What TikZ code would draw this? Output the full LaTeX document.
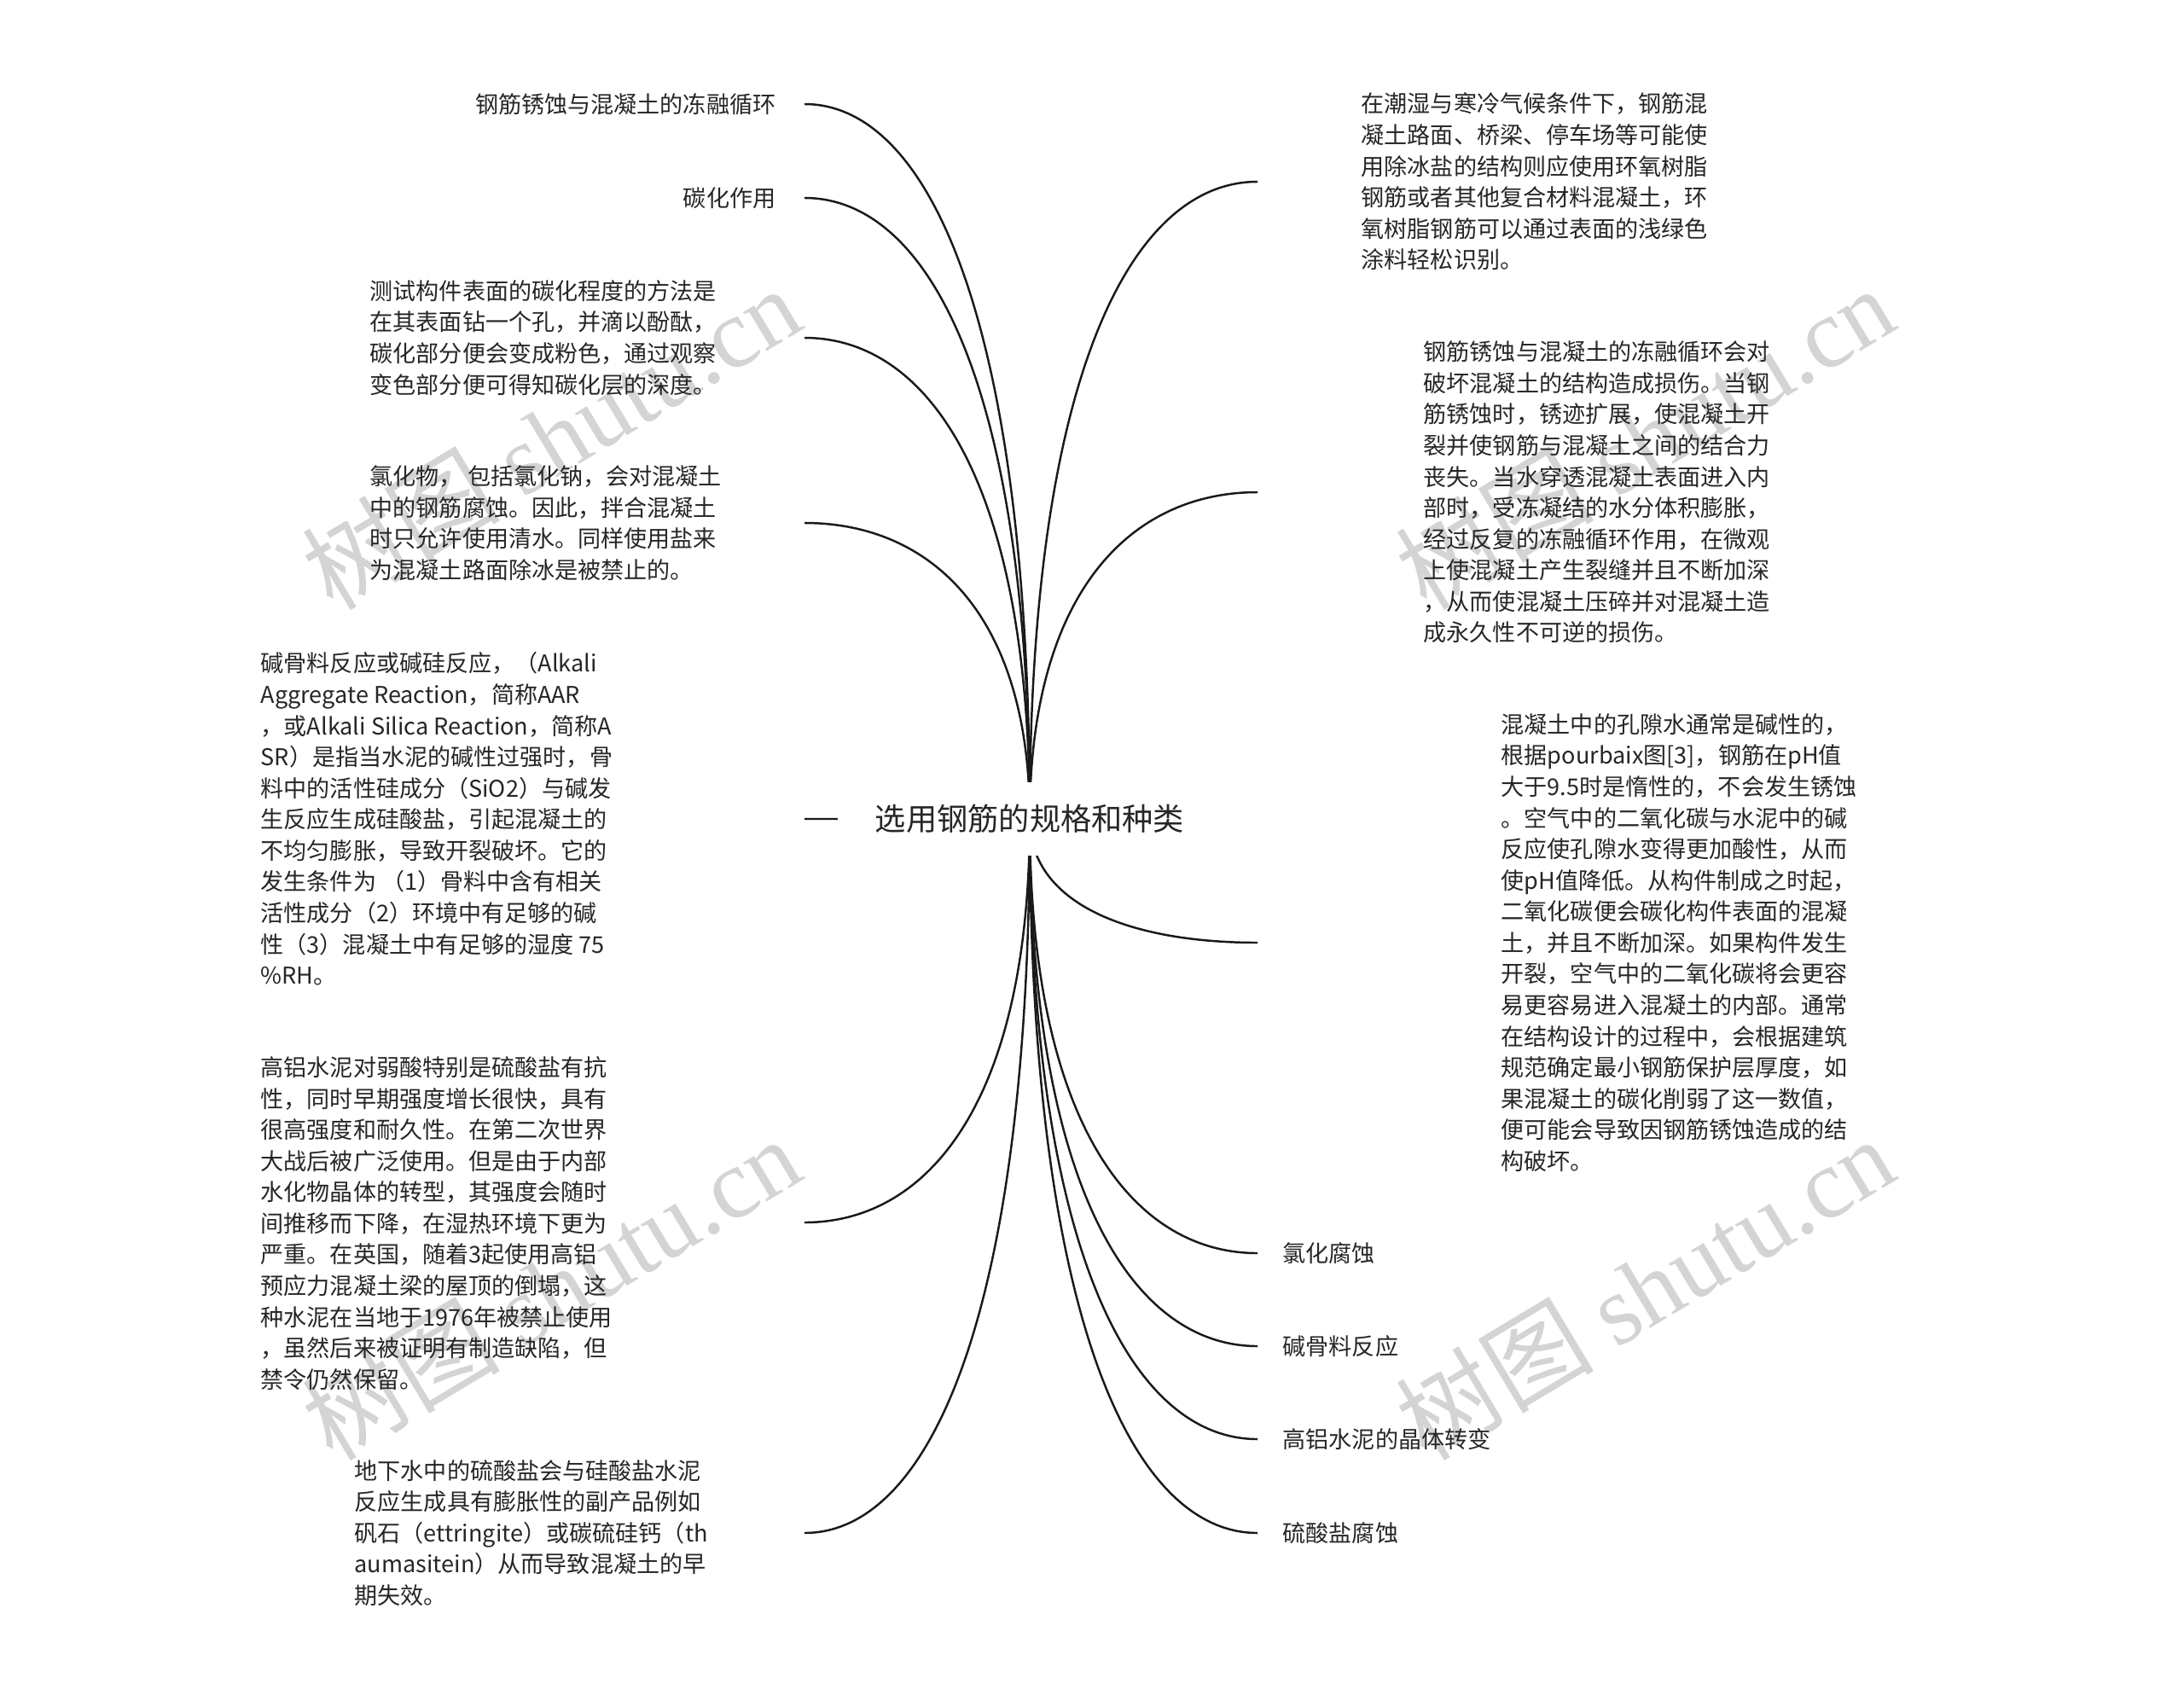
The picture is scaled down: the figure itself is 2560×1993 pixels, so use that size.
\documentclass[tikz,border=0pt]{standalone}
\usepackage{fontspec}
\setmainfont{Noto Sans CJK SC}
\newfontfamily\wmlatin{Liberation Serif}
\usetikzlibrary{positioning,calc}

\begin{document}
\begin{tikzpicture}[x=0.01cm,y=-0.01cm,
    link/.style={line width=0.7pt,draw=black!90},
    leaf/.style={inner sep=0pt,text=black!85,font=\fontsize{7.7pt}{10.4pt}\selectfont},
    para/.style={leaf,align=left,anchor=west},
    topic/.style={fill=white,inner sep=0pt,minimum width=4.5cm,minimum height=0.86cm,text=black!85,font=\fontsize{10.3pt}{12pt}\selectfont},
    wmark/.style={text=black!17,rotate=31,inner sep=0pt,font=\fontsize{33pt}{33pt}\selectfont}]
    \fill[white] (0,0) rectangle (2560,1993);
    \useasboundingbox (0,0) rectangle (2560,1993);
    % watermarks
    \node[wmark] (wm1) at (646,513) {树图 {\wmlatin shutu.cn}};
    \node[wmark] (wm2) at (1928,513) {树图 {\wmlatin shutu.cn}};
    \node[wmark] (wm3) at (646,1510) {树图 {\wmlatin shutu.cn}};
    \node[wmark] (wm4) at (1928,1510) {树图 {\wmlatin shutu.cn}};
    % branch ends
    \coordinate (root) at (1207,960);
    \coordinate (l1) at (943,122);
    \coordinate (l2) at (943,232);
    \coordinate (l3) at (943,396);
    \coordinate (l4) at (943,613);
    \coordinate (l5) at (943,960);
    \coordinate (l6) at (943,1433);
    \coordinate (l7) at (943,1797);
    \coordinate (r1) at (1474,213);
    \coordinate (r2) at (1474,577);
    \coordinate (r3) at (1474,1105);
    \coordinate (r4) at (1474,1469);
    \coordinate (r5) at (1474,1578);
    \coordinate (r6) at (1474,1687);
    \coordinate (r7) at (1474,1797);
    \foreach \e in {l1,l2,l3,l4,l5,l6,l7,r1,r2,r3,r4,r5,r6,r7}
        \draw[link] (root) .. controls ($(root)!0.7!(root|-\e)$) and ($(root|-\e)!0.45!(\e)$) .. (\e);
    \node[topic] (title) at (root) {选用钢筋的规格和种类};
    % left side
    \node[leaf,left=0.33cm of l1] (freeze) {钢筋锈蚀与混凝土的冻融循环};
    \node[leaf,left=0.33cm of l2] (carbon) {碳化作用};
    \node[para] (test) at (433,396) {测试构件表面的碳化程度的方法是\\在其表面钻一个孔，并滴以酚酞，\\碳化部分便会变成粉色，通过观察\\变色部分便可得知碳化层的深度。};
    \node[para] (chloride) at (433,613) {氯化物， 包括氯化钠，会对混凝土\\中的钢筋腐蚀。因此，拌合混凝土\\时只允许使用清水。同样使用盐来\\为混凝土路面除冰是被禁止的。};
    \node[para] (aar) at (305,960) {碱骨料反应或碱硅反应，（Alkali\\Aggregate Reaction，简称AAR\\，或Alkali Silica Reaction，简称A\\SR）是指当水泥的碱性过强时，骨\\料中的活性硅成分（SiO2）与碱发\\生反应生成硅酸盐，引起混凝土的\\不均匀膨胀，导致开裂破坏。它的\\发生条件为 （1）骨料中含有相关\\活性成分（2）环境中有足够的碱\\性（3）混凝土中有足够的湿度 75\\\%RH。};
    \node[para] (alumina) at (305,1434) {高铝水泥对弱酸特别是硫酸盐有抗\\性，同时早期强度增长很快，具有\\很高强度和耐久性。在第二次世界\\大战后被广泛使用。但是由于内部\\水化物晶体的转型，其强度会随时\\间推移而下降，在湿热环境下更为\\严重。在英国，随着3起使用高铝\\预应力混凝土梁的屋顶的倒塌，这\\种水泥在当地于1976年被禁止使用\\，虽然后来被证明有制造缺陷，但\\禁令仍然保留。};
    \node[para] (sulfate) at (415,1797) {地下水中的硫酸盐会与硅酸盐水泥\\反应生成具有膨胀性的副产品例如\\矾石（ettringite）或碳硫硅钙（th\\aumasitein）从而导致混凝土的早\\期失效。};
    % right side
    \node[para] (epoxy) at (1595,213) {在潮湿与寒冷气候条件下，钢筋混\\凝土路面、桥梁、停车场等可能使\\用除冰盐的结构则应使用环氧树脂\\钢筋或者其他复合材料混凝土，环\\氧树脂钢筋可以通过表面的浅绿色\\涂料轻松识别。};
    \node[para] (cycle) at (1668,577) {钢筋锈蚀与混凝土的冻融循环会对\\破坏混凝土的结构造成损伤。当钢\\筋锈蚀时，锈迹扩展，使混凝土开\\裂并使钢筋与混凝土之间的结合力\\丧失。当水穿透混凝土表面进入内\\部时，受冻凝结的水分体积膨胀，\\经过反复的冻融循环作用，在微观\\上使混凝土产生裂缝并且不断加深\\，从而使混凝土压碎并对混凝土造\\成永久性不可逆的损伤。};
    \node[para] (ph) at (1759,1105) {混凝土中的孔隙水通常是碱性的，\\根据pourbaix图[3]，钢筋在pH值\\大于9.5时是惰性的，不会发生锈蚀\\。空气中的二氧化碳与水泥中的碱\\反应使孔隙水变得更加酸性，从而\\使pH值降低。从构件制成之时起，\\二氧化碳便会碳化构件表面的混凝\\土，并且不断加深。如果构件发生\\开裂，空气中的二氧化碳将会更容\\易更容易进入混凝土的内部。通常\\在结构设计的过程中，会根据建筑\\规范确定最小钢筋保护层厚度，如\\果混凝土的碳化削弱了这一数值，\\便可能会导致因钢筋锈蚀造成的结\\构破坏。};
    \node[leaf,right=0.29cm of r4] (clcorr) {氯化腐蚀};
    \node[leaf,right=0.29cm of r5] (aarleaf) {碱骨料反应};
    \node[leaf,right=0.29cm of r6] (hac) {高铝水泥的晶体转变};
    \node[leaf,right=0.29cm of r7] (so4) {硫酸盐腐蚀};
\end{tikzpicture}
\end{document}
